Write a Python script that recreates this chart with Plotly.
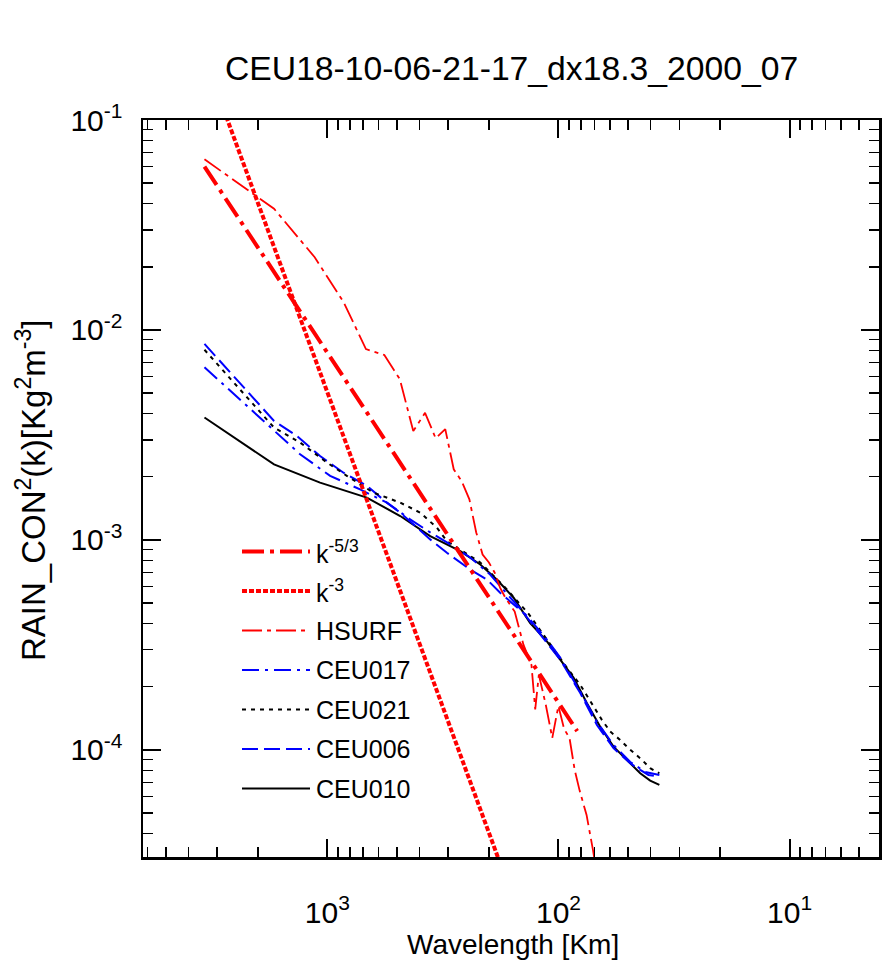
import plotly.graph_objects as go

# ---------------- data ----------------
# wavelengths in km, spectra in Kg^2 m^-3
ref_wl = [3404, 83]
k53_vals = [6.0e-2, 1.23e-4]
k3_vals = [1.99e-1, 2.88e-6]

hsurf_wl = [3404, 1702, 1135, 851, 681, 567, 486, 425, 378, 340,
            309, 284, 262, 243, 227, 213, 200, 189, 179, 170,
            154.7, 141.8, 136.2, 130.9, 126.1, 121.6, 113.5, 106.4, 100.1, 94.6,
            89.6, 85.1, 81.0, 75.6, 70.9, 68.1]
hsurf_vals = [6.5e-2, 3.78e-2, 2.22e-2, 1.356e-2, 8.11e-3, 7.6e-3, 5.83e-3, 3.3e-3, 4.03e-3, 3.05e-3,
              3.37e-3, 2.17e-3, 1.90e-3, 1.56e-3, 1.086e-3, 8.52e-4, 7.81e-4, 7.0e-4, 5.93e-4, 5.32e-4,
              4.56e-4, 3.17e-4, 2.84e-4, 2.54e-4, 1.56e-4, 2.28e-4, 1.64e-4, 1.14e-4, 1.62e-4, 1.26e-4,
              1.14e-4, 8.03e-5, 6.4e-5, 4.9e-5, 3.33e-5, 2.53e-5]

ceu017_wl = [3404, 1702, 1313, 973, 722, 553, 438.5, 359, 294, 241, 197.6,
             161.8, 132.6, 112.2, 98.3, 80.5, 68.2, 57.8, 48.9, 42.1, 36.6]
ceu017_vals = [6.64e-3, 3.33e-3, 2.56e-3, 2.02e-3, 1.74e-3, 1.505e-3, 1.253e-3, 1.086e-3, 9.52e-4, 8.25e-4, 6.84e-4,
               5.32e-4, 4.17e-4, 3.35e-4, 2.75e-4, 1.89e-4, 1.36e-4, 1.056e-4, 8.76e-5, 7.85e-5, 7.6e-5]

ceu021_wl = [3404, 1702, 1313, 1006, 824, 632, 484, 397, 336, 304, 218, 170,
             134.9, 108.6, 91.9, 80.5, 71.7, 64.9, 59.7, 54.1, 49.8, 43.5, 40.1, 36.6]
ceu021_vals = [8.05e-3, 3.43e-3, 2.91e-3, 2.34e-3, 2.02e-3, 1.68e-3, 1.505e-3, 1.35e-3, 1.144e-3, 9.87e-4, 7.81e-4, 5.93e-4,
               4.46e-4, 3.17e-4, 2.46e-4, 2.04e-4, 1.67e-4, 1.39e-4, 1.223e-4, 1.116e-4, 1.019e-4, 8.96e-5, 8.18e-5, 7.74e-5]

ceu006_wl = [3404, 1702, 1357, 1076, 852, 675, 553, 484, 359, 304, 241, 204,
             178.8, 141.7, 112.2, 98.3, 80.5, 68.2, 57.8, 48.9, 44.3, 40.8, 36.6]
ceu006_vals = [8.58e-3, 3.69e-3, 3.13e-3, 2.51e-3, 2.09e-3, 1.81e-3, 1.505e-3, 1.35e-3, 1.006e-3, 8.69e-4, 7.23e-4, 6.48e-4,
               5.6e-4, 4.49e-4, 3.23e-4, 2.69e-4, 1.865e-4, 1.316e-4, 1.019e-4, 8.64e-5, 8.03e-5, 7.6e-5, 7.46e-5]

ceu010_wl = [3404, 1702, 1076, 675, 484, 359, 266, 218, 185, 156.6, 132.6,
             112.2, 98.3, 86.1, 75.3, 66.0, 57.8, 50.6, 44.3, 40.1, 36.6]
ceu010_vals = [3.83e-3, 2.29e-3, 1.875e-3, 1.59e-3, 1.30e-3, 1.043e-3, 8.84e-4, 7.64e-4, 6.48e-4, 5.32e-4, 4.02e-4,
               3.29e-4, 2.69e-4, 2.21e-4, 1.67e-4, 1.29e-4, 1.037e-4, 8.96e-5, 7.74e-5, 7.14e-5, 6.81e-5]

series_names = ["k<sup>-5/3</sup>", "k<sup>-3</sup>", "HSURF", "CEU017", "CEU021", "CEU006", "CEU010"]
series_x = [ref_wl, ref_wl, hsurf_wl, ceu017_wl, ceu021_wl, ceu006_wl, ceu010_wl]
series_y = [k53_vals, k3_vals, hsurf_vals, ceu017_vals, ceu021_vals, ceu006_vals, ceu010_vals]

x_tickvals = [1000, 100, 10]
x_ticktext = ["10<sup>3</sup>", "10<sup>2</sup>", "10<sup>1</sup>"]
y_tickvals = [1e-1, 1e-2, 1e-3, 1e-4]
y_ticktext = ["10<sup>-1</sup>", "10<sup>-2</sup>", "10<sup>-3</sup>", "10<sup>-4</sup>"]

# ---------------- styles ----------------
RED, BLUE, BLACK = "#ff0000", "#0000ff", "#000000"
styles = [
    dict(color=RED, width=4, dash="22px,6px,4px,6px"),
    dict(color=RED, width=4, dash="5px,2px"),
    dict(color=RED, width=1.8, dash="20px,5px,4px,5px"),
    dict(color=BLUE, width=2, dash="17px,6px,3px,6px"),
    dict(color=BLACK, width=2, dash="4px,5px"),
    dict(color=BLUE, width=2, dash="16px,6px"),
    dict(color=BLACK, width=2, dash="solid"),
]

FONT = "Liberation Sans, Arial, Helvetica, sans-serif"

fig = go.Figure()
# draw data lines first, reference lines on top
order = [6, 5, 4, 3, 2, 0, 1]
for i in order:
    fig.add_trace(go.Scatter(x=series_x[i], y=series_y[i], mode="lines",
                             line=styles[i], name=series_names[i],
                             showlegend=False, hoverinfo="skip"))

# plot area in pixels: x 143..879, y 120..857
PX_L, PX_R, PX_T, PX_B = 143, 879, 120, 857
W, H = 885, 966


def px2paper_x(px):
    return (px - PX_L) / (PX_R - PX_L)


def px2paper_y(py):
    return (PX_B - py) / (PX_B - PX_T)


# manual legend (long line samples like the original)
legend_rows = [551.5, 591, 630.5, 670, 709.5, 749, 788.5]
shapes = []
annotations = []
for i, yy in enumerate(legend_rows):
    shapes.append(dict(type="line", xref="paper", yref="paper",
                       x0=px2paper_x(242), x1=px2paper_x(310),
                       y0=px2paper_y(yy), y1=px2paper_y(yy),
                       line=styles[i]))
    annotations.append(dict(xref="paper", yref="paper", x=px2paper_x(314), y=px2paper_y(yy),
                            xanchor="left", yanchor="middle", showarrow=False,
                            text=series_names[i], font=dict(size=25, family=FONT, color="black")))

# titles
annotations.append(dict(xref="paper", yref="paper", x=px2paper_x(511), y=px2paper_y(68),
                        xanchor="center", yanchor="middle", showarrow=False,
                        text="CEU18-10-06-21-17_dx18.3_2000_07",
                        font=dict(size=33.7, family=FONT, color="black")))
annotations.append(dict(xref="paper", yref="paper", x=px2paper_x(513), y=px2paper_y(945),
                        xanchor="center", yanchor="middle", showarrow=False,
                        text="Wavelength [Km]",
                        font=dict(size=28, family=FONT, color="black")))
annotations.append(dict(xref="paper", yref="paper", x=px2paper_x(31), y=px2paper_y(491),
                        xanchor="center", yanchor="middle", showarrow=False, textangle=-90,
                        text="RAIN_CON<sup>2</sup>(k)[Kg<sup>2</sup>m<sup>-3</sup>]",
                        font=dict(size=33, family=FONT, color="black")))

axis_common = dict(
    type="log", showline=True, linewidth=2.5, linecolor="black", mirror="allticks",
    ticks="inside", ticklen=18, tickwidth=2, tickcolor="black",
    tickmode="array", showgrid=False, zeroline=False, automargin=False,
    tickfont=dict(size=30, family=FONT, color="black"),
    minor=dict(ticks="inside", ticklen=10, tickwidth=1.5, tickcolor="black",
               showgrid=False, dtick="D1"),
)

fig.update_xaxes(range=[3.798, 0.613], tickvals=x_tickvals, ticktext=x_ticktext,
                 ticklabelstandoff=27, **axis_common)
fig.update_yaxes(range=[-4.51, -1.0], tickvals=y_tickvals, ticktext=y_ticktext,
                 ticklabelstandoff=12, **axis_common)

fig.update_layout(
    width=W, height=H,
    margin=dict(l=PX_L, r=W - PX_R, t=PX_T, b=H - PX_B, pad=0, autoexpand=False),
    plot_bgcolor="white", paper_bgcolor="white",
    showlegend=False,
    font=dict(family=FONT, color="black"),
    shapes=shapes, annotations=annotations,
)

# remove the default page margin so the figure sits at the window origin
fig.write_html("out.html",
               config={"displayModeBar": False, "staticPlot": True},
               post_script="document.body.style.margin='0';document.body.style.overflow='hidden';")
